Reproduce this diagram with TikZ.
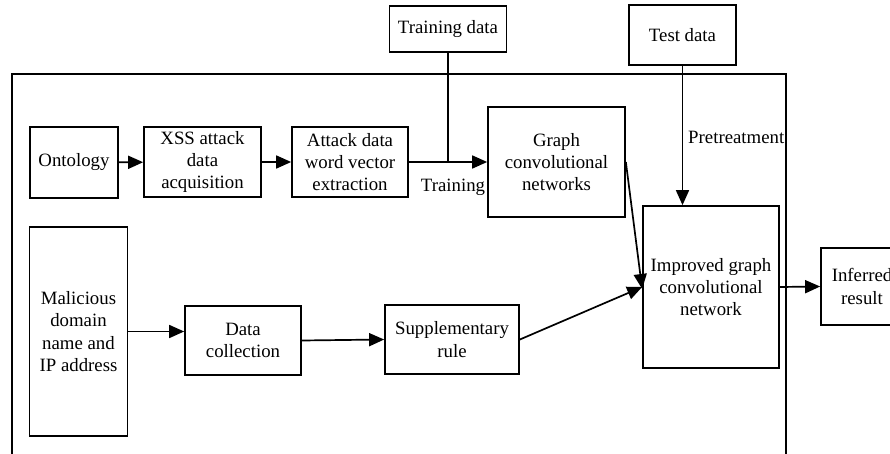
\documentclass[tikz,border=0pt]{standalone}
\usepackage{fontspec}
\setmainfont{Liberation Serif}
\usetikzlibrary{arrows.meta}
\begin{document}
\begin{tikzpicture}[x=1pt,y=-1pt,
  box/.style={draw,line width=1.7pt,align=center,inner sep=1pt,
    font=\fontsize{18.8}{22.3}\selectfont},
  lbl/.style={inner sep=0pt,font=\fontsize{18.8}{22.3}\selectfont},
  conn/.style={line width=1.7pt},
  arr/.style={conn,-{Triangle[length=15pt,width=13pt]}}]
\useasboundingbox (0,0) rectangle (890,454);
\clip (0,0) rectangle (890,454);
% frame
\draw[conn] (12,460) -- (12,74) -- (786,74) -- (786,460);
% nodes
\node[box,minimum width=117pt,minimum height=46pt] (train) at (448,29) {Training data};
\node[box,minimum width=107pt,minimum height=60pt] (test) at (682.5,35) {Test data};
\node[box,minimum width=88pt,minimum height=71pt] (onto) at (74,162.5) {Ontology};
\node[box,minimum width=117pt,minimum height=70pt] (xss) at (202.5,162) {XSS attack\\data\\acquisition};
\node[box,minimum width=116pt,minimum height=70pt] (atk) at (350,162) {Attack data\\word vector\\extraction};
\node[box,minimum width=137pt,minimum height=110pt] (gcn) at (556.5,162) {Graph\\convolutional\\networks};
\node[box,minimum width=136pt,minimum height=162pt] (imp) at (711,287) {Improved graph\\convolutional\\network};
\node[box,minimum width=82pt,minimum height=77pt] (inf) at (862,286.5) {Inferred\\result};
\node[box,minimum width=98pt,minimum height=209pt] (mal) at (78.5,331.5) {Malicious\\domain\\name and\\IP address};
\node[box,minimum width=116pt,minimum height=69pt] (dc) at (243,340.5) {Data\\collection};
\node[box,minimum width=134pt,minimum height=69pt] (sup) at (452,339.5) {Supplementary\\rule};
% labels
\node[lbl] (ltrain) at (453,187) {Training};
\node[lbl,anchor=west] (lpre) at (688,137) {Pretreatment};
% connectors
\draw[arr] (onto) -- (xss);
\draw[arr] (xss) -- (atk);
\draw[arr] (atk) -- (gcn);
\coordinate (join) at (train.south |- atk.east);
\draw[conn] (train.south) -- (join);
\draw[arr] (test.south) -- (test.south |- imp.north);
\draw[arr] (gcn.east) -- ([yshift=-2pt]imp.west);
\draw[arr] (sup.east) -- (imp.west);
\draw[arr] (imp.east) -- (inf.west);
\draw[arr] (mal.east) -- (mal.east -| dc.west);
\draw[arr] (dc.east) -- (sup.west);
\end{tikzpicture}
\end{document}
